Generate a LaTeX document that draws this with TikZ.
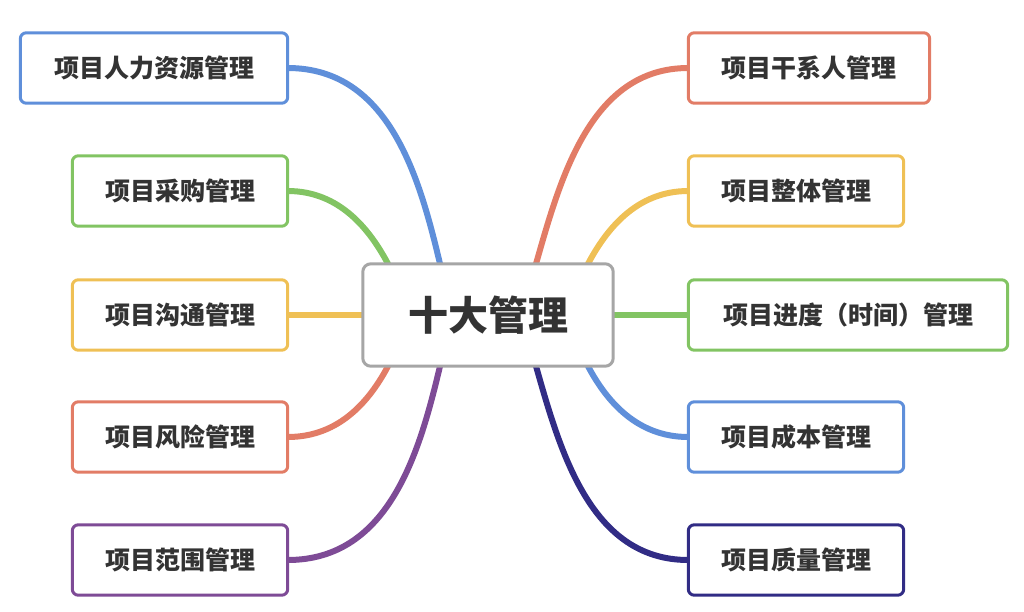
\documentclass[tikz,border=0pt]{standalone}
\usepackage{fontspec}
\setmainfont{Noto Sans CJK SC}
\usetikzlibrary{calc}
\definecolor{cblue}{HTML}{5F8FDA}
\definecolor{cgreen}{HTML}{82C463}
\definecolor{cyellow}{HTML}{EFC055}
\definecolor{cred}{HTML}{E27C66}
\definecolor{cpurple}{HTML}{7E4B96}
\definecolor{cnavy}{HTML}{312C85}
\definecolor{ctext}{HTML}{333333}
\begin{document}
\begin{tikzpicture}[x=1pt,y=-1pt,
 box/.style={minimum height=70pt,inner sep=0pt},
 link/.style={draw=#1,line width=6pt,line cap=round}]
\useasboundingbox (0,0) rectangle (1024,611);
\node[minimum width=250pt,minimum height=102pt] (c) at (488,315) {};
\node[box,minimum width=267pt] (l1) at (154,68) {};
\node[box,minimum width=215pt] (l2) at (180,191) {};
\node[box,minimum width=215pt] (l3) at (180,315) {};
\node[box,minimum width=215pt] (l4) at (180,437) {};
\node[box,minimum width=215pt] (l5) at (180,560) {};
\node[box,minimum width=241pt] (r1) at (809,68) {};
\node[box,minimum width=215pt] (r2) at (796,191) {};
\node[box,minimum width=319pt] (r3) at (848,315) {};
\node[box,minimum width=215pt] (r4) at (796,437) {};
\node[box,minimum width=215pt] (r5) at (796,560) {};
\path[link=cblue] (l1.east) .. controls (390,68) and (420,180) .. ($(c.north)+(-48,0)$);
\path[link=cgreen] (l2.east) .. controls (340,191) and (370,230) .. ($(c.north)+(-100,0)$);
\path[link=cyellow] (l3.east) -- (c.west);
\path[link=cred] (l4.east) .. controls (340,437) and (370,400) .. ($(c.south)+(-100,0)$);
\path[link=cpurple] (l5.east) .. controls (390,560) and (420,450) .. ($(c.south)+(-48,0)$);
\path[link=cred] (r1.west) .. controls (590,68) and (560,180) .. ($(c.north)+(48,0)$);
\path[link=cyellow] (r2.west) .. controls (636,191) and (606,230) .. ($(c.north)+(100,0)$);
\path[link=cgreen] (r3.west) -- (c.east);
\path[link=cblue] (r4.west) .. controls (636,437) and (606,400) .. ($(c.south)+(100,0)$);
\path[link=cnavy] (r5.west) .. controls (590,560) and (560,450) .. ($(c.south)+(48,0)$);
\foreach \n/\c in {l1/cblue,l2/cgreen,l3/cyellow,l4/cred,l5/cpurple,r1/cred,r2/cyellow,r3/cgreen,r4/cblue,r5/cnavy}{
 \draw[\c,line width=3pt,rounded corners=6pt,fill=white] (\n.north west) rectangle (\n.south east);
}
\draw[gray!70,line width=3pt,rounded corners=8pt,fill=white] (c.north west) rectangle (c.south east);
\node[text=ctext,font=\bfseries\fontsize{40}{46}\selectfont] at (c) {十大管理};
\foreach \n/\t in {l1/项目人力资源管理,l2/项目采购管理,l3/项目沟通管理,l4/项目风险管理,l5/项目范围管理,r1/项目干系人管理,r2/项目整体管理,r3/项目进度（时间）管理,r4/项目成本管理,r5/项目质量管理}{
 \node[text=ctext,font=\bfseries\fontsize{25}{30}\selectfont] at (\n) {\t};
}
\end{tikzpicture}
\end{document}
